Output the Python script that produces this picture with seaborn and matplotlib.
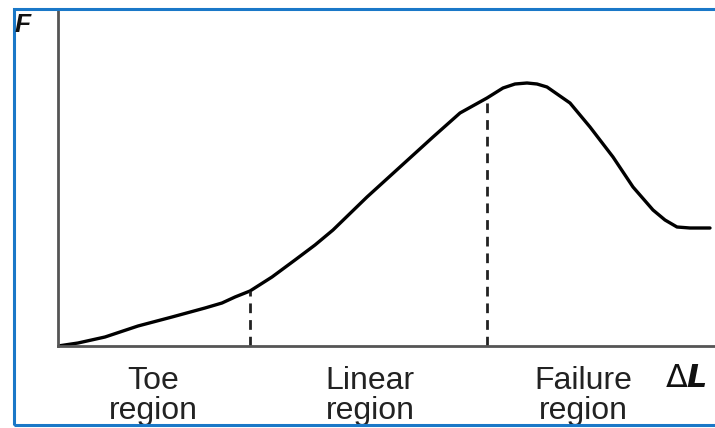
import numpy as np
import pandas as pd
import matplotlib.pyplot as plt
import seaborn as sns
from matplotlib.patches import Rectangle

sns.set_theme(style="white")
plt.rcParams["font.family"] = ["Liberation Sans", "DejaVu Sans"]

# force vs elongation curve (arbitrary units)
elong = [0, 20, 47, 80, 114, 147, 164, 177, 192, 214, 237, 257, 275, 309,
         342, 375, 402, 429, 445, 457, 469, 479, 489, 512, 532, 555, 575,
         595, 607, 619, 632, 652]
force = [0, 3, 9, 20, 29, 38, 43, 49, 55, 69, 86, 101, 116, 149,
         179, 209, 233, 248, 258, 262, 263, 262, 259, 243, 219, 189, 159,
         136, 126, 119, 118, 118]
boundaries = [192, 429]
bound_force = [55, 248]
regions = ["Toe\nregion", "Linear\nregion", "Failure\nregion"]
region_x = [95, 312, 525]

df = pd.DataFrame({"elong": elong, "force": force})

fig = plt.figure(figsize=(7.15, 4.28), dpi=100)
ax = fig.add_axes([58 / 715, 1 - 346 / 428, 1 - 58 / 715, 336 / 428])

sns.lineplot(data=df, x="elong", y="force", sort=False, color="black",
             linewidth=2.4, ax=ax, solid_joinstyle="round")
for bx, bf in zip(boundaries, bound_force):
    ax.plot([bx, bx], [0, bf], color="#222222", linestyle=(0, (3.5, 2.5)),
            linewidth=2)

ax.set_xlim(0, 657)
ax.set_ylim(0, 336)
ax.set_xticks([])
ax.set_yticks([])
ax.set_xlabel("")
ax.set_ylabel("")
for side in ["top", "right"]:
    ax.spines[side].set_visible(False)
for side in ["left", "bottom"]:
    ax.spines[side].set_color("#555555")
    ax.spines[side].set_linewidth(2)

for lab, rx in zip(regions, region_x):
    ax.text(rx, -20, lab, ha="center", va="top", fontsize=23,
            color="#222222", linespacing=1.02)

fig.text(15 / 715, 1 - 25 / 428, "F", fontsize=19, fontweight="bold",
         fontstyle="italic", va="center", ha="left", color="#111111")
fig.text(665 / 715, 1 - 379 / 428, r"$\Delta\boldsymbol{L}$",
         fontsize=23, va="center", ha="left", color="#111111")

fig.patches.append(Rectangle((14 / 715, 1 - 425 / 428), 1.0, 416 / 428,
                             transform=fig.transFigure, fill=False,
                             edgecolor="#1a78c8", linewidth=2.2))

fig.savefig("out.png", dpi=100)
